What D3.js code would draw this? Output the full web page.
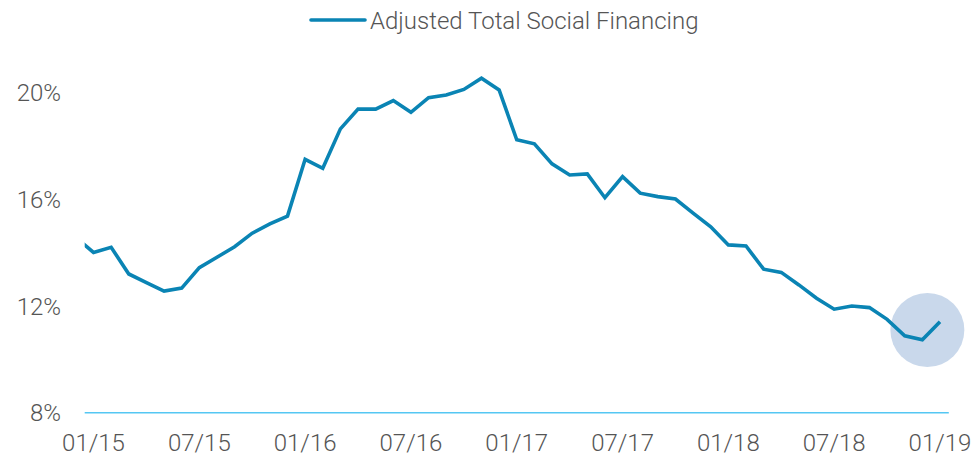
<!DOCTYPE html>
<html>
<head>
<meta charset="utf-8">
<script src="https://cdn.jsdelivr.net/npm/d3@7"></script>
<style>
  html, body { margin: 0; padding: 0; background: #fff; }
  svg { display: block; }
  text { font-family: Roboto, "Open Sans", sans-serif; font-weight: 300; fill: #555; }
</style>
</head>
<body>
<svg id="chart" width="973" height="455"></svg>
<script>
// Months (index 0 = 01/15); 12/14 lies just before the plot edge and is clipped
const months = ["12/14",
  "01/15","02/15","03/15","04/15","05/15","06/15","07/15","08/15","09/15","10/15","11/15","12/15",
  "01/16","02/16","03/16","04/16","05/16","06/16","07/16","08/16","09/16","10/16","11/16","12/16",
  "01/17","02/17","03/17","04/17","05/17","06/17","07/17","08/17","09/17","10/17","11/17","12/17",
  "01/18","02/18","03/18","04/18","05/18","06/18","07/18","08/18","09/18","10/18","11/18","12/18",
  "01/19"];
const tsfValues = [14.56,
  14.01, 14.2, 13.2, 12.88, 12.56, 12.67, 13.44, 13.83, 14.22, 14.73, 15.08, 15.37,
  17.5, 17.16, 18.64, 19.38, 19.38, 19.7, 19.26, 19.81, 19.91, 20.12, 20.54, 20.1,
  18.23, 18.08, 17.33, 16.91, 16.95, 16.06, 16.85, 16.23, 16.1, 16.01, 15.48, 14.97,
  14.29, 14.25, 13.38, 13.26, 12.79, 12.29, 11.88, 12.0, 11.94, 11.5, 10.88, 10.73,
  11.41];
const seriesName = "Adjusted Total Social Financing";
const yTicks = [8, 12, 16, 20];
const xTickLabels = ["01/15","07/15","01/16","07/16","01/17","07/17","01/18","07/18","01/19"];
const highlightMonth = "12/18";
const highlightValue = 11.1;

const svg = d3.select("#chart");
const left = 84.7, right = 948.8;
const nCats = 49; // 01/15 .. 01/19
const idx = m => months.indexOf(m) - 1;

const x = d3.scaleLinear().domain([-0.5, nCats - 0.5]).range([left, right]);
const y = d3.scaleLinear().domain([8, 20]).range([412.7, 92.6]);

svg.append("defs").append("clipPath").attr("id", "plot")
  .append("rect").attr("x", left).attr("y", 0).attr("width", right - left).attr("height", 455);

// Highlight circle
svg.append("circle")
  .attr("cx", x(idx(highlightMonth)) + 5)
  .attr("cy", y(highlightValue))
  .attr("r", 37)
  .attr("fill", "#c9d8eb");

// Baseline (x axis)
svg.append("line")
  .attr("x1", left).attr("x2", right)
  .attr("y1", y(8)).attr("y2", y(8))
  .attr("stroke", "#55c7f3").attr("stroke-width", 1.6);

// Y tick labels
svg.append("g").selectAll("text").data(yTicks).join("text")
  .attr("x", 61).attr("y", d => y(d) + 8.5)
  .attr("text-anchor", "end")
  .style("font-size", "24px")
  .text(d => d + "%");

// X tick labels
svg.append("g").selectAll("text").data(xTickLabels).join("text")
  .attr("x", d => x(idx(d)))
  .attr("y", 451)
  .attr("text-anchor", "middle")
  .style("font-size", "24px")
  .text(d => d);

// Line
const data = months.map((m, i) => ({ i: i - 1, v: tsfValues[i] }));
const line = d3.line().x(d => x(d.i)).y(d => y(d.v));
svg.append("path")
  .datum(data)
  .attr("clip-path", "url(#plot)")
  .attr("d", line)
  .attr("fill", "none")
  .attr("stroke", "#0a84b4")
  .attr("stroke-width", 3.6)
  .attr("stroke-linejoin", "miter");

// Legend
const lg = svg.append("g");
lg.append("line").attr("x1", 311).attr("x2", 365).attr("y1", 20).attr("y2", 20)
  .attr("stroke", "#0a84b4").attr("stroke-width", 3.6).attr("stroke-linecap", "round");
lg.append("text").attr("x", 370).attr("y", 28.5)
  .style("font-size", "24px")
  .text(seriesName);
</script>
</body>
</html>
